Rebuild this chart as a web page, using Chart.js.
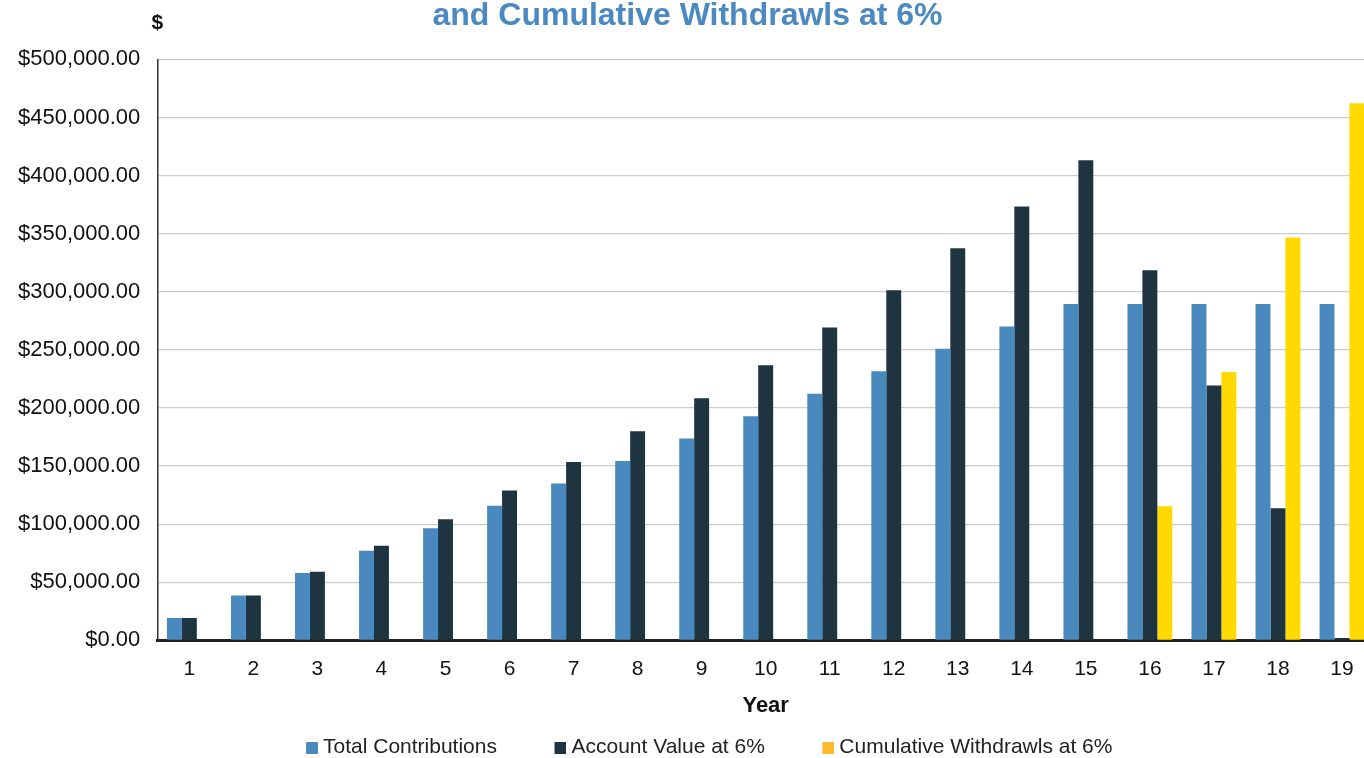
<!DOCTYPE html>
<html>
<head>
<meta charset="utf-8">
<script src="https://cdn.jsdelivr.net/npm/chart.js@4.4.1/dist/chart.umd.min.js"></script>
<style>
  html, body { margin: 0; padding: 0; background: #fff; overflow: hidden; }
  #wrap { width: 1380px; height: 758px; }
</style>
</head>
<body>
<div id="wrap"><canvas id="chart" width="1380" height="758"></canvas></div>
<script>
// chart data
var years = ['1','2','3','4','5','6','7','8','9','10','11','12','13','14','15','16','17','18','19'];
var contributions = [19300, 38600, 57900, 77200, 96500, 115800, 135100, 154400, 173700, 193000,
                     212300, 231600, 250900, 270200, 289500, 289500, 289500, 289500, 289500];
var accountValue = [19300, 38600, 59000, 81500, 104300, 129000, 153500, 180000, 208300, 236800,
                    269200, 301300, 337400, 373500, 413300, 318500, 219300, 113700, 2000];
var withdrawals = [null, null, null, null, null, null, null, null, null, null,
                   null, null, null, null, null, 115500, 231000, 346800, 462300];
var seriesNames = ['Total Contributions', 'Account Value at 6%', 'Cumulative Withdrawls at 6%'];
var barColors = ['#4a89be', '#1f3441', '#ffd900'];
var swatchColors = ['#4a89be', '#1f3441', '#fbbb2c'];
var yMax = 500000;
var yStep = 50000;

var FONT = '"Liberation Sans", Arial, Helvetica, sans-serif';
var SWATCH_AREA = 50; // legend box area, square sits at its right end

// small square swatch images, drawn at the right end so the gap falls before the box
function makeSwatch(color) {
    var c = document.createElement('canvas');
    c.width = SWATCH_AREA + 11;
    c.height = 12;
    var g = c.getContext('2d');
    g.fillStyle = color;
    g.fillRect(c.width - 12, 0, 12, 12);
    return c;
}
var swatches = swatchColors.map(makeSwatch);

// draws the "$" unit label above the y axis
var unitLabel = {
    id: 'unitLabel',
    afterDraw: function (chart) {
        var ctx = chart.ctx;
        var yAxis = chart.scales.y;
        ctx.save();
        ctx.font = 'bold 21px ' + FONT;
        ctx.fillStyle = '#111';
        ctx.textAlign = 'center';
        ctx.textBaseline = 'middle';
        ctx.fillText('$', yAxis.right, 23);
        ctx.restore();
    }
};

var ctx = document.getElementById('chart').getContext('2d');
var chart = new Chart(ctx, {
    type: 'bar',
    data: {
        labels: years,
        datasets: [{
            label: seriesNames[0],
            data: contributions,
            backgroundColor: barColors[0]
        }, {
            label: seriesNames[1],
            data: accountValue,
            backgroundColor: barColors[1]
        }, {
            label: seriesNames[2],
            data: withdrawals,
            backgroundColor: barColors[2]
        }]
    },
    options: {
        responsive: false,
        animation: false,
        devicePixelRatio: 1,
        layout: { padding: { left: 1, right: 6, top: 0, bottom: -10 } },
        datasets: {
            bar: { categoryPercentage: 0.7, barPercentage: 1.0, borderWidth: 0 }
        },
        plugins: {
            title: {
                display: true,
                text: 'and Cumulative Withdrawls at 6%',
                color: '#4a89c2',
                font: { family: FONT, size: 32, weight: 'bold', lineHeight: 1.2 },
                padding: { top: -3, bottom: 24 }
            },
            legend: {
                position: 'bottom',
                labels: {
                    color: '#222',
                    usePointStyle: true,
                    pointStyleWidth: SWATCH_AREA,
                    boxHeight: 12,
                    padding: 14,
                    font: { family: FONT, size: 21 },
                    generateLabels: function (c) {
                        var items = Chart.defaults.plugins.legend.labels.generateLabels(c);
                        items.forEach(function (it, i) {
                            it.pointStyle = swatches[i];
                            it.lineWidth = 0;
                        });
                        return items;
                    }
                }
            },
            tooltip: { enabled: false }
        },
        scales: {
            x: {
                grid: { display: false, drawTicks: false },
                border: { color: '#222', width: 3 },
                ticks: { color: '#111', padding: 16, font: { family: FONT, size: 21 } },
                title: {
                    display: true,
                    text: 'Year',
                    color: '#111',
                    font: { family: FONT, size: 22, weight: 'bold' },
                    padding: { top: -5, bottom: 4 }
                }
            },
            y: {
                min: 0,
                max: yMax,
                grid: { color: '#cccccc', lineWidth: 1.2, drawTicks: false },
                border: { color: '#333', width: 1.5 },
                ticks: {
                    stepSize: yStep,
                    color: '#111',
                    padding: 17,
                    font: { family: FONT, size: 22 },
                    callback: function (v) {
                        return '$' + v.toLocaleString('en-US', { minimumFractionDigits: 2, maximumFractionDigits: 2 });
                    }
                }
            }
        }
    },
    plugins: [unitLabel]
});
</script>
</body>
</html>
